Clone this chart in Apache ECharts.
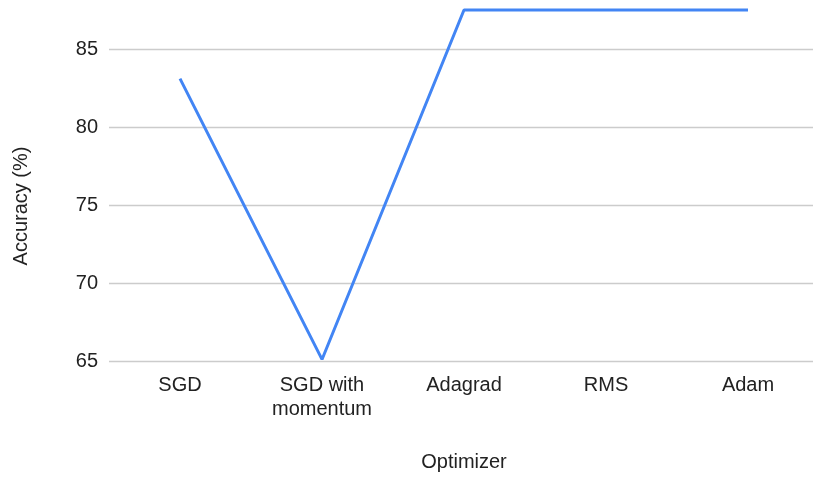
<!DOCTYPE html>
<html>
<head>
<meta charset="utf-8">
<title>Accuracy by optimizer</title>
<script src="https://cdn.jsdelivr.net/npm/echarts@6/dist/echarts.min.js"></script>
<style>
  html, body { margin: 0; padding: 0; background: #fff; }
  #chart { width: 813px; height: 477px; }
</style>
</head>
<body>
<div id="chart"></div>
<script>
// Optimizers compared and their accuracy in percent
const optimizers = ['SGD', 'SGD with\nmomentum', 'Adagrad', 'RMS', 'Adam'];
const accuracy = [83.1, 65.1, 87.5, 87.5, 87.5];

const yMin = 65;
const yMax = 87.5;
const yStep = 5;

const chart = echarts.init(document.getElementById('chart'), null, { renderer: 'canvas' });

const font = 'Arial, "Liberation Sans", sans-serif';

chart.setOption({
  animation: false,
  grid: {
    left: 109, width: 710, top: 10, bottom: 116,
    containLabel: false, outerBoundsMode: 'none'
  },
  xAxis: {
    type: 'category',
    data: optimizers,
    boundaryGap: true,
    name: 'Optimizer',
    nameLocation: 'middle',
    nameGap: 91,
    nameTextStyle: { color: '#222', fontSize: 20, fontFamily: font },
    axisLine: { show: false },
    axisTick: { show: false },
    axisLabel: {
      color: '#222', fontSize: 20, fontFamily: font,
      margin: 12, lineHeight: 24, interval: 0
    }
  },
  yAxis: {
    type: 'value',
    min: yMin,
    max: yMax,
    interval: yStep,
    name: 'Accuracy (%)',
    nameLocation: 'middle',
    nameGap: 78,
    nameTextStyle: { color: '#222', fontSize: 20, fontFamily: font, padding: [0, 41, 0, 0] },
    axisLine: { show: false },
    axisTick: { show: false },
    axisLabel: {
      color: '#222', fontSize: 20, fontFamily: font, margin: 11,
      showMaxLabel: false
    },
    splitLine: {
      show: true,
      showMaxLine: false,
      lineStyle: { color: '#cccccc', width: 1.3 }
    }
  },
  series: [{
    type: 'line',
    data: accuracy,
    symbol: 'none',
    lineStyle: { color: '#4285f4', width: 3 },
    clip: false
  }]
});
</script>
</body>
</html>
